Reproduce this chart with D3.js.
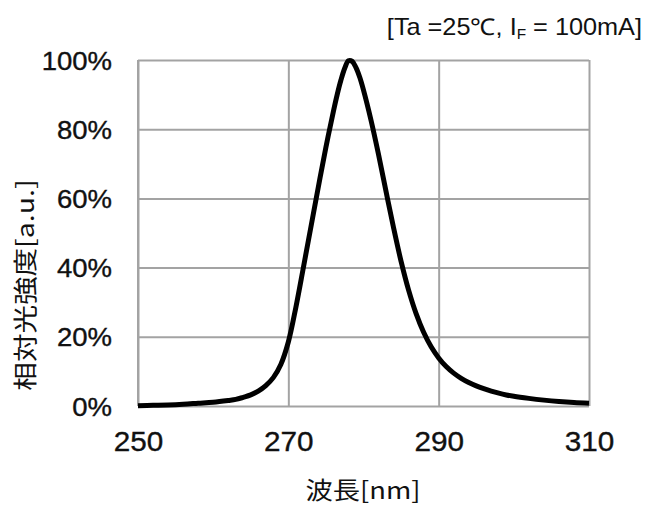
<!DOCTYPE html>
<html>
<head>
<meta charset="utf-8">
<script src="https://cdn.jsdelivr.net/npm/d3@7"></script>
<style>
  html, body { margin: 0; padding: 0; background: #fff; }
  svg { display: block; }
</style>
</head>
<body>
<svg id="chart" width="647" height="508"></svg>
<script>
// Emission spectrum: wavelength [nm] vs relative intensity (fraction of peak)
const wavelength = [250, 252, 254, 256, 258, 260, 262, 263, 264, 265, 266, 267, 268, 269, 270,
  271, 272, 273, 274, 275, 276, 276.5, 277, 277.5, 278, 278.5, 279, 279.5, 280, 281, 282, 283,
  284, 285, 286, 287, 288, 289, 290, 291, 292, 293, 294, 295, 296, 297, 298, 299, 300, 302,
  304, 306, 308, 310];
const intensity = [0.001, 0.002, 0.003, 0.005, 0.008, 0.011, 0.016, 0.019, 0.025, 0.032, 0.043,
  0.059, 0.082, 0.120, 0.185, 0.285, 0.400, 0.517, 0.634, 0.748, 0.852, 0.900, 0.942, 0.976,
  0.998, 0.996, 0.978, 0.950, 0.913, 0.826, 0.727, 0.620, 0.515, 0.418, 0.335, 0.267, 0.213,
  0.171, 0.139, 0.114, 0.095, 0.080, 0.068, 0.058, 0.050, 0.043, 0.037, 0.032, 0.028, 0.022,
  0.017, 0.013, 0.010, 0.008];

const xTicks = [250, 270, 290, 310];
const yTicks = [0, 0.2, 0.4, 0.6, 0.8, 1.0];

const xTitle = "波長[nm]";
const yTitle = "相対光強度[a.u.]";

const svg = d3.select("#chart");
const plotL = 138, plotR = 589, plotT = 60, plotB = 406;

const x = d3.scaleLinear().domain([250, 310]).range([plotL, plotR]);
const y = d3.scaleLinear().domain([0, 1]).range([plotB, plotT]);

const gridColor = "#a3a3a3";
const ink = "#111";
const numFont = "'Liberation Sans', Arial, sans-serif";
const cjkFont = "'Noto Sans CJK JP', 'Noto Sans CJK SC', sans-serif";

// horizontal grid lines
svg.append("g")
  .attr("transform", `translate(${plotL},0)`)
  .call(d3.axisLeft(y).tickValues(yTicks).tickSize(-(plotR - plotL)).tickFormat(""))
  .call(g => g.select(".domain").remove())
  .call(g => g.selectAll("line").attr("stroke", gridColor).attr("stroke-width", 2));

// vertical grid lines
svg.append("g")
  .attr("transform", `translate(0,${plotB})`)
  .call(d3.axisBottom(x).tickValues(xTicks).tickSize(-(plotB - plotT)).tickFormat(""))
  .call(g => g.select(".domain").remove())
  .call(g => g.selectAll("line").attr("stroke", gridColor).attr("stroke-width", 2));

// left border
svg.append("line")
  .attr("x1", x(250)).attr("x2", x(250)).attr("y1", y(1)).attr("y2", y(0))
  .attr("stroke", gridColor).attr("stroke-width", 2);

// y tick labels
const sx = 1.1;
svg.append("g")
  .attr("transform", `translate(${plotL},0)`)
  .call(d3.axisLeft(y).tickValues(yTicks).tickSize(0).tickFormat(d3.format(".0%")))
  .call(g => g.select(".domain").remove())
  .call(g => g.selectAll("text")
    .attr("x", -26 / sx)
    .attr("dy", "0.36em")
    .attr("transform", `scale(${sx},1)`)
    .attr("fill", ink)
    .attr("stroke", ink)
    .attr("stroke-width", 0.35)
    .style("font-family", numFont)
    .style("font-size", "25px"));

// x tick labels
svg.append("g")
  .attr("transform", `translate(0,${plotB})`)
  .call(d3.axisBottom(x).tickValues(xTicks).tickSize(0).tickFormat(d3.format("d")))
  .call(g => g.select(".domain").remove())
  .call(g => g.selectAll("text")
    .attr("y", 26)
    .attr("dy", "0.71em")
    .attr("transform", `scale(${sx},1)`)
    .attr("x", 0)
    .attr("fill", ink)
    .attr("stroke", ink)
    .attr("stroke-width", 0.35)
    .style("font-family", numFont)
    .style("font-size", "27px"));

// spectrum curve
const line = d3.line()
  .x((d, i) => x(wavelength[i]))
  .y(d => y(d))
  .curve(d3.curveCatmullRom.alpha(0.5));

svg.append("path")
  .datum(intensity)
  .attr("d", line)
  .attr("fill", "none")
  .attr("stroke", "#000")
  .attr("stroke-width", 5)
  .attr("stroke-linejoin", "round")
  .attr("stroke-linecap", "butt");

// axis titles
svg.append("text")
  .attr("transform", `translate(363,499) scale(1.14,1)`)
  .attr("text-anchor", "middle")
  .attr("fill", ink)
  .style("font-family", cjkFont)
  .style("font-size", "24px")
  .text(xTitle);

svg.append("text")
  .attr("transform", `translate(34,285) rotate(-90) scale(1.19,1)`)
  .attr("text-anchor", "middle")
  .attr("fill", ink)
  .style("font-family", cjkFont)
  .style("font-size", "24px")
  .text(yTitle);

// measurement conditions
const cond = svg.append("text")
  .attr("transform", `translate(642,35) scale(1.1,1)`)
  .attr("text-anchor", "end")
  .attr("fill", ink)
  .style("font-family", numFont)
  .style("font-size", "23px");
cond.append("tspan").text("[Ta =25℃, I");
cond.append("tspan").attr("dy", 4).style("font-size", "14px").text("F");
cond.append("tspan").attr("dy", -4).text(" = 100mA]");
</script>
</body>
</html>
